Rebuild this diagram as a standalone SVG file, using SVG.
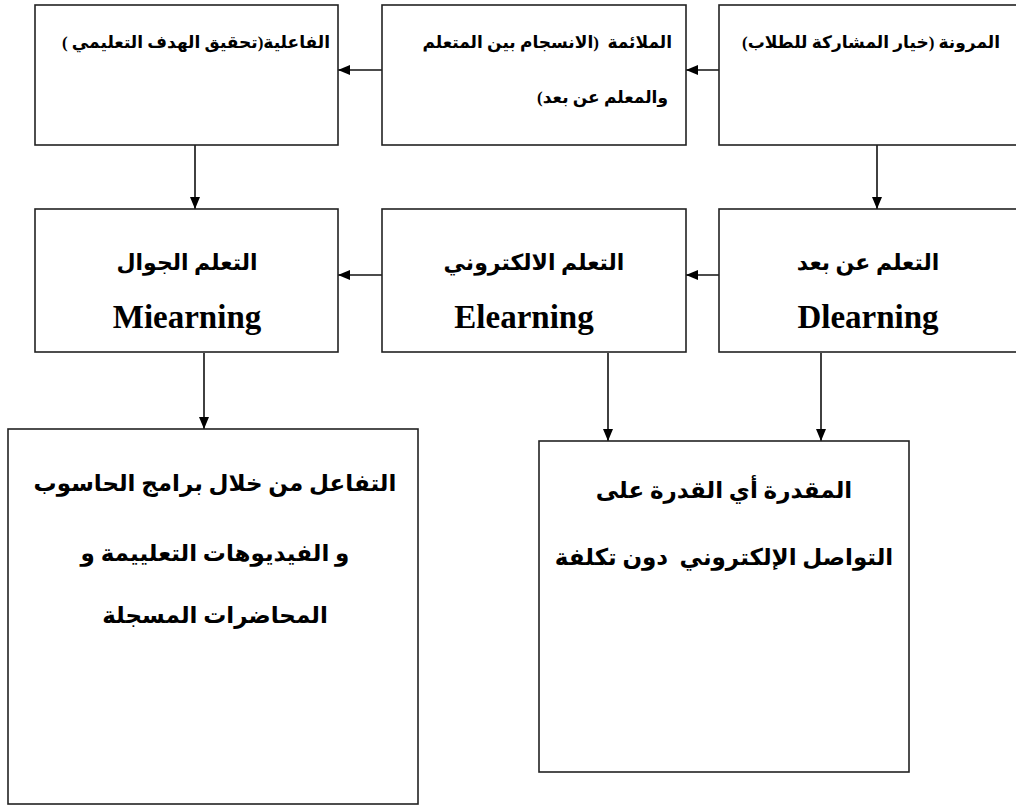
<svg xmlns="http://www.w3.org/2000/svg" width="1016" height="805" viewBox="0 0 1016 805">
<style>
.box{fill:#fff;stroke:#222;stroke-width:1.6}
.con{stroke:#111;stroke-width:1.6;fill:none;marker-end:url(#ah)}
.ar{font-family:"Liberation Serif","DejaVu Sans",serif;font-weight:bold;fill:#000}
.sm{font-size:17px}
.md{font-size:22px}
.lg{font-size:23px}
.en{font-family:"Liberation Serif","Times New Roman",serif;font-weight:bold;font-size:33px;fill:#000}
</style>
<defs>
<marker id="ah" markerWidth="12" markerHeight="10" refX="12" refY="5" orient="auto" markerUnits="userSpaceOnUse">
<path d="M0,0 L12,5 L0,10 Z" fill="#000"/>
</marker>
</defs>
<rect width="1016" height="805" fill="#fff"/>
<g id="connectors">
<line class="con" x1="382" y1="70" x2="338" y2="70"/>
<line class="con" x1="719" y1="70" x2="686" y2="70"/>
<line class="con" x1="195" y1="145" x2="195" y2="209"/>
<line class="con" x1="877" y1="145" x2="877" y2="209"/>
<line class="con" x1="382" y1="275" x2="338" y2="275"/>
<line class="con" x1="719" y1="275" x2="686" y2="275"/>
<line class="con" x1="204" y1="353" x2="204" y2="429"/>
<line class="con" x1="608" y1="353" x2="608" y2="441"/>
<line class="con" x1="821" y1="353" x2="821" y2="441"/>
</g>
<g id="node-effectiveness">
<rect class="box" x="35" y="5" width="303" height="140"/>
<text class="ar sm" x="330" y="48" direction="rtl" text-anchor="start">الفاعلية(تحقيق الهدف التعليمي )</text>
</g>
<g id="node-suitability">
<rect class="box" x="382" y="5" width="304" height="140"/>
<text class="ar sm" x="672" y="48" direction="rtl" text-anchor="start" xml:space="preserve" style="white-space:pre">الملائمة  (الانسجام بين المتعلم</text>
<text class="ar sm" x="668" y="103" direction="rtl" text-anchor="start">والمعلم عن بعد)</text>
</g>
<g id="node-flexibility">
<rect class="box" x="719" y="5" width="299" height="140"/>
<text class="ar sm" x="1000" y="48" direction="rtl" text-anchor="start">المرونة (خيار المشاركة للطلاب)</text>
</g>
<g id="node-mlearning">
<rect class="box" x="35" y="209" width="303" height="143"/>
<text class="ar md" x="187" y="270" text-anchor="middle">التعلم الجوال</text>
<text class="en" x="187" y="328" text-anchor="middle">Miearning</text>
</g>
<g id="node-elearning">
<rect class="box" x="382" y="209" width="304" height="143"/>
<text class="ar md" x="534" y="270" text-anchor="middle">التعلم الالكتروني</text>
<text class="en" x="524" y="328" text-anchor="middle">Elearning</text>
</g>
<g id="node-dlearning">
<rect class="box" x="719" y="209" width="299" height="143"/>
<text class="ar md" x="868" y="270" text-anchor="middle">التعلم عن بعد</text>
<text class="en" x="868" y="328" text-anchor="middle">Dlearning</text>
</g>
<g id="node-interaction">
<rect class="box" x="8" y="429" width="410" height="375"/>
<text class="ar lg" x="215" y="491" text-anchor="middle">التفاعل من خلال برامج الحاسوب</text>
<text class="ar lg" x="215" y="561" text-anchor="middle">و الفيديوهات التعلييمة و</text>
<text class="ar lg" x="215" y="623" text-anchor="middle">المحاضرات المسجلة</text>
</g>
<g id="node-ability">
<rect class="box" x="539" y="441" width="370" height="331"/>
<text class="ar lg" x="724" y="498" text-anchor="middle">المقدرة أي القدرة على</text>
<text class="ar lg" x="724" y="565" text-anchor="middle" xml:space="preserve" style="white-space:pre">التواصل الإلكتروني  دون تكلفة</text>
</g>
</svg>
